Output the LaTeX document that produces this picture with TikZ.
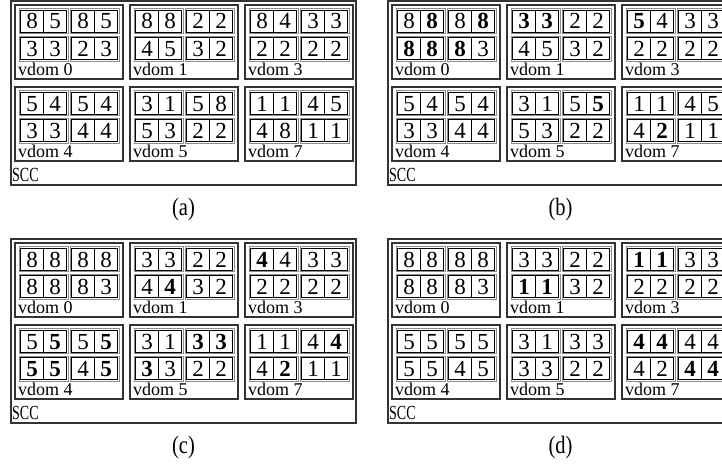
\documentclass[tikz,border=0pt]{standalone}
\usepackage{fontspec}
\usepackage{graphicx}
\setmainfont{Liberation Serif}
\newcommand\bd[1]{\textbf{#1}}
\newcommand\sccname{\scalebox{0.7}[1]{SCC}}
\newcommand\capname[1]{\scalebox{0.82}[1]{#1}}
\tikzset{
  pairbox/.style={draw=black!45, line width=0.9pt},
  cellbox/.style={draw=black, line width=0.8pt},
  vdombox/.style={draw=black!80, line width=1.1pt},
  sccbox/.style={draw=black!80, line width=1.4pt},
  digit/.style={font=\fontsize{23}{23}\selectfont, anchor=base, inner sep=0pt},
  vlabel/.style={font=\fontsize{18}{18}\selectfont, anchor=base west, inner sep=0pt},
  scclabel/.style={font=\fontsize{20}{20}\selectfont, anchor=base west, inner sep=0pt},
  caplabel/.style={font=\fontsize{25}{25}\selectfont, inner sep=0pt},
}
\newcommand\vrow[4]{%
  \foreach \p in {0,1} {
    \draw[pairbox] ({#2+4+51*\p},{#3}) rectangle ++(49,25);
  }
  \foreach \v [count=\i from 0] in {#4} {
    \pgfmathtruncatemacro\pp{floor(\i/2)}
    \pgfmathtruncatemacro\cc{mod(\i,2)}
    \pgfmathsetmacro\cx{#2+4+51*\pp+1.5+23*\cc}
    \draw[cellbox] (\cx,{#3+1.5}) rectangle ++(23,22);
    \node[digit] (#1-\i) at ({\cx+11.5},{#3+20.5}) {\v};
  }
}
\newcommand\vdom[6]{%
  \draw[vdombox] (#2,#3) rectangle ++(108,74);
  \vrow{#1-r0}{#2}{#3+3.5}{#5}
  \vrow{#1-r1}{#2}{#3+31}{#6}
  \node[vlabel] (#1-lab) at ({#2+3},{#3+70.5}) {#4};
}
\begin{document}
\begin{tikzpicture}[x=1pt,y=-1pt]
\useasboundingbox (0,0) rectangle (722,468);
\clip (0,0) rectangle (722,468);
% ---------- (a)
\draw[sccbox] (11,1) rectangle (356,185);
\node[scclabel] (a-scc) at (12,181.5) {\sccname};
\vdom{a-v0}{15}{5}{vdom 0}{8,5,8,5}{3,3,2,3}
\vdom{a-v1}{130}{5}{vdom 1}{8,8,2,2}{4,5,3,2}
\vdom{a-v3}{245}{5}{vdom 3}{8,4,3,3}{2,2,2,2}
\vdom{a-v4}{15}{87}{vdom 4}{5,4,5,4}{3,3,4,4}
\vdom{a-v5}{130}{87}{vdom 5}{3,1,5,8}{5,3,2,2}
\vdom{a-v7}{245}{87}{vdom 7}{1,1,4,5}{4,8,1,1}
\node[caplabel] (a-cap) at (183.5,209) {\capname{(a)}};
% ---------- (b)
\draw[sccbox] (388,1) rectangle (733,185);
\node[scclabel] (b-scc) at (389,181.5) {\sccname};
\vdom{b-v0}{392}{5}{vdom 0}{8,\bd{8},8,\bd{8}}{\bd{8},\bd{8},\bd{8},3}
\vdom{b-v1}{507}{5}{vdom 1}{\bd{3},\bd{3},2,2}{4,5,3,2}
\vdom{b-v3}{622}{5}{vdom 3}{\bd{5},4,3,3}{2,2,2,2}
\vdom{b-v4}{392}{87}{vdom 4}{5,4,5,4}{3,3,4,4}
\vdom{b-v5}{507}{87}{vdom 5}{3,1,5,\bd{5}}{5,3,2,2}
\vdom{b-v7}{622}{87}{vdom 7}{1,1,4,5}{4,\bd{2},1,1}
\node[caplabel] (b-cap) at (560.5,209) {\capname{(b)}};
% ---------- (c)
\draw[sccbox] (11,239) rectangle (356,423);
\node[scclabel] (c-scc) at (12,419.5) {\sccname};
\vdom{c-v0}{15}{243}{vdom 0}{8,8,8,8}{8,8,8,3}
\vdom{c-v1}{130}{243}{vdom 1}{3,3,2,2}{4,\bd{4},3,2}
\vdom{c-v3}{245}{243}{vdom 3}{\bd{4},4,3,3}{2,2,2,2}
\vdom{c-v4}{15}{325}{vdom 4}{5,\bd{5},5,\bd{5}}{\bd{5},\bd{5},4,\bd{5}}
\vdom{c-v5}{130}{325}{vdom 5}{3,1,\bd{3},\bd{3}}{\bd{3},3,2,2}
\vdom{c-v7}{245}{325}{vdom 7}{1,1,4,\bd{4}}{4,\bd{2},1,1}
\node[caplabel] (c-cap) at (183.5,447) {\capname{(c)}};
% ---------- (d)
\draw[sccbox] (388,239) rectangle (733,423);
\node[scclabel] (d-scc) at (389,419.5) {\sccname};
\vdom{d-v0}{392}{243}{vdom 0}{8,8,8,8}{8,8,8,3}
\vdom{d-v1}{507}{243}{vdom 1}{3,3,2,2}{\bd{1},\bd{1},3,2}
\vdom{d-v3}{622}{243}{vdom 3}{\bd{1},\bd{1},3,3}{2,2,2,2}
\vdom{d-v4}{392}{325}{vdom 4}{5,5,5,5}{5,5,4,5}
\vdom{d-v5}{507}{325}{vdom 5}{3,1,3,3}{3,3,2,2}
\vdom{d-v7}{622}{325}{vdom 7}{\bd{4},\bd{4},4,4}{4,2,\bd{4},\bd{4}}
\node[caplabel] (d-cap) at (560.5,447) {\capname{(d)}};
\end{tikzpicture}
\end{document}
